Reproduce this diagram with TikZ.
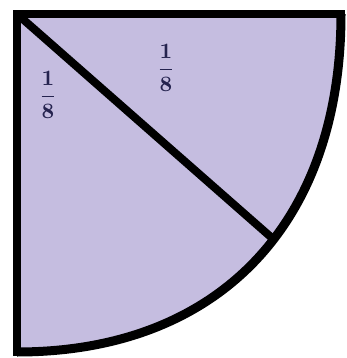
\documentclass[tikz,border=0pt]{standalone}
\usepackage{amsmath}
\usepackage{graphicx}
\definecolor{fillc}{HTML}{C5BDE0}
\definecolor{txtc}{HTML}{25234F}
\tikzset{
  edge/.style={line width=8pt, draw=black, line join=miter, line cap=rect},
  frac/.style={text=txtc, inner sep=0pt}
}
\newcommand{\bigeighth}{\scalebox{2.2}{\boldmath$\dfrac{1}{8}$}}
\begin{document}
\begin{tikzpicture}[x=1pt,y=-1pt]
\useasboundingbox (0,0) rectangle (347,358);
\coordinate (O) at (17,14);
\coordinate (A) at (341,14);
\coordinate (B) at (17,352);
\coordinate (D) at (272,238);
\fill[fillc] (O) -- (A) .. controls (341,224) and (218,352) .. (B) -- cycle;
\draw[edge, line width=9pt, line cap=butt] (A) .. controls (341,224) and (218,352) .. (B);
\draw[edge, line width=7.5pt] (B) -- (O) -- (A);
\draw[edge, line cap=butt] (O) -- (D);
\node[frac] (l1) at (48,95) {\bigeighth};
\node[frac] (l2) at (166,68) {\bigeighth};
\end{tikzpicture}
\end{document}
